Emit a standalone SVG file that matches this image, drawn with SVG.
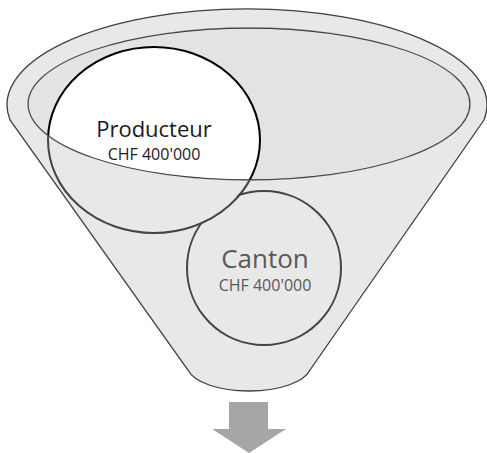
<svg xmlns="http://www.w3.org/2000/svg" width="487" height="453" viewBox="0 0 487 453">
<style>
.t{font-family:"Open Sans","Liberation Sans",sans-serif;text-anchor:middle}
.outline{fill:none;stroke:#404040;stroke-width:1.3}
</style>
<defs>
<path id="funnel" d="M 10 120 A 240 96 0 1 1 484 120 L 310 370 C 304 382 280 391 249 391 C 218 391 194 382 188 370 Z"/>
<mask id="outsideProd" maskUnits="userSpaceOnUse" x="0" y="0" width="487" height="453">
<rect width="487" height="453" fill="#ffffff"/>
<ellipse cx="154" cy="140" rx="105" ry="92" fill="#000000"/>
</mask>
</defs>
<rect width="487" height="453" fill="#ffffff"/>
<g id="funnel-body">
<use href="#funnel" fill="#ffffff"/>
<ellipse cx="249" cy="104" rx="221" ry="76" fill="#e3e3e3"/>
</g>
<g id="producteur">
<ellipse cx="154" cy="140" rx="106" ry="93" fill="#ffffff" stroke="#000000" stroke-width="2"/>
</g>
<g id="funnel-front">
<ellipse cx="249" cy="104" rx="221" ry="76" fill="none" stroke="#333333" stroke-width="1.3"/>
<path d="M 10 120 A 240 96 0 1 1 484 120 L 310 370 C 304 382 280 391 249 391 C 218 391 194 382 188 370 Z M 28 104 A 221 76 0 1 0 470 104 A 221 76 0 1 0 28 104 Z" fill="#bebebe" fill-opacity="0.36" fill-rule="evenodd"/>
<use href="#funnel" class="outline"/>
</g>
<g id="canton">
<circle cx="264" cy="268" r="77" fill="none" stroke="#444444" stroke-width="2" mask="url(#outsideProd)"/>
<text class="t" x="265" y="268" font-size="26" fill="#595959">Canton</text>
<text class="t" x="265" y="291" font-size="16" fill="#595959">CHF 400'000</text>
</g>
<g id="producteur-label">
<text class="t" x="154" y="137" font-size="22" fill="#1a1a1a">Producteur</text>
<text class="t" x="154" y="160" font-size="16" fill="#1a1a1a">CHF 400'000</text>
</g>
<g id="connectors">
<path d="M 229 402 H 268 V 429 H 286 L 249 453 L 212 429 H 229 Z" fill="#a6a6a6"/>
</g>
</svg>
